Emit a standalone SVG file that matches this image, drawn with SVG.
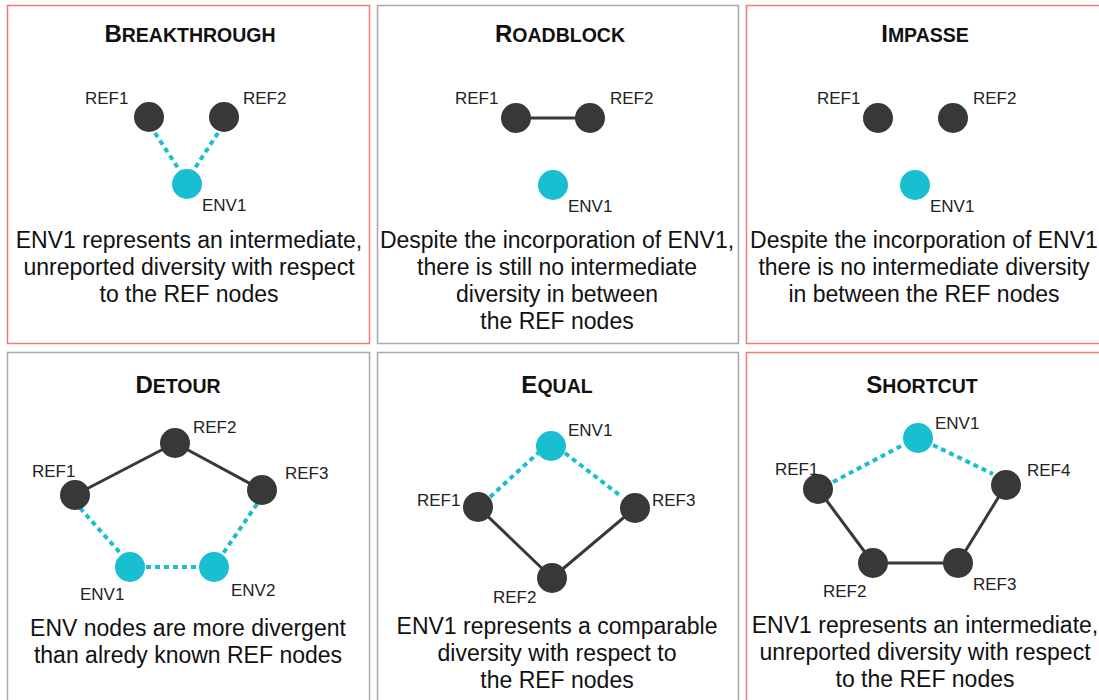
<svg xmlns="http://www.w3.org/2000/svg" width="1099" height="700" viewBox="0 0 1099 700">
<style>
.panel{fill:#fff;stroke-width:1.5}
.red{stroke:#f07a7a}
.gray{stroke:#a8a8a8}
.title{font-family:"Liberation Sans",Arial,sans-serif;font-weight:bold;font-size:19.5px;fill:#111;text-anchor:middle}
.cap{font-size:24px}
.lbl{font-family:"Liberation Sans",Arial,sans-serif;font-size:17px;fill:#222}
.desc{font-family:"Liberation Sans",Arial,sans-serif;font-size:23px;fill:#111;text-anchor:middle}
.ref{fill:#383838}
.env{fill:#19bfd0}
.solid{stroke:#383838;stroke-width:3;fill:none}
.dash{stroke:#19bfd0;stroke-width:4;stroke-dasharray:5 4;fill:none}
</style>
<rect width="1099" height="700" fill="#fff"/>
<g id="panels">
<rect class="panel red" x="7.5" y="5.5" width="362" height="338"/>
<rect class="panel gray" x="377.5" y="5.5" width="361" height="338"/>
<rect class="panel red" x="746.5" y="5.5" width="360" height="338"/>
<rect class="panel gray" x="7.5" y="352.5" width="362" height="360"/>
<rect class="panel gray" x="377.5" y="352.5" width="361" height="360"/>
<rect class="panel red" x="746.5" y="352.5" width="360" height="360"/>
</g>
<g id="connectors">
<line class="dash" x1="155" y1="133" x2="180" y2="171"/>
<line class="dash" x1="218" y1="133" x2="193" y2="171"/>
<line class="solid" x1="516" y1="118" x2="590" y2="118"/>
<line class="solid" x1="75" y1="495" x2="175" y2="443"/>
<line class="solid" x1="175" y1="443" x2="262" y2="490"/>
<line class="dash" x1="80" y1="508" x2="122" y2="555"/>
<line class="dash" x1="257" y1="504" x2="222" y2="555"/>
<line class="dash" x1="146" y1="567" x2="200" y2="567"/>
<line class="dash" x1="490" y1="497" x2="538" y2="453"/>
<line class="dash" x1="565" y1="453" x2="622" y2="497"/>
<line class="solid" x1="478" y1="507" x2="552" y2="578"/>
<line class="solid" x1="552" y1="578" x2="635" y2="508"/>
<line class="dash" x1="833" y1="482" x2="903" y2="445"/>
<line class="dash" x1="933" y1="445" x2="993" y2="474"/>
<line class="solid" x1="818" y1="489" x2="873" y2="563"/>
<line class="solid" x1="873" y1="563" x2="958" y2="563"/>
<line class="solid" x1="958" y1="563" x2="1006" y2="485"/>
</g>
<g id="breakthrough">
<text class="title" x="190" y="42"><tspan class="cap">B</tspan>REAKTHROUGH</text>
<circle class="ref" cx="149" cy="117" r="15"/>
<circle class="ref" cx="224" cy="117" r="15"/>
<circle class="env" cx="187" cy="184" r="15"/>
<text class="lbl" x="85" y="104">REF1</text>
<text class="lbl" x="243" y="104">REF2</text>
<text class="lbl" x="202" y="211">ENV1</text>
<text class="desc" x="189" y="248">ENV1 represents an intermediate,</text>
<text class="desc" x="189" y="275">unreported diversity with respect</text>
<text class="desc" x="189" y="302">to the REF nodes</text>
</g>
<g id="roadblock">
<text class="title" x="560" y="42"><tspan class="cap">R</tspan>OADBLOCK</text>
<circle class="ref" cx="516" cy="118" r="15"/>
<circle class="ref" cx="590" cy="118" r="15"/>
<circle class="env" cx="553" cy="185" r="15"/>
<text class="lbl" x="455" y="104">REF1</text>
<text class="lbl" x="610" y="104">REF2</text>
<text class="lbl" x="568" y="212">ENV1</text>
<text class="desc" x="557" y="248">Despite the incorporation of ENV1,</text>
<text class="desc" x="557" y="275">there is still no intermediate</text>
<text class="desc" x="557" y="302">diversity in between</text>
<text class="desc" x="557" y="329">the REF nodes</text>
</g>
<g id="impasse">
<text class="title" x="925" y="42"><tspan class="cap">I</tspan>MPASSE</text>
<circle class="ref" cx="878" cy="118" r="15"/>
<circle class="ref" cx="953" cy="118" r="15"/>
<circle class="env" cx="915" cy="185" r="15"/>
<text class="lbl" x="817" y="104">REF1</text>
<text class="lbl" x="973" y="104">REF2</text>
<text class="lbl" x="930" y="212">ENV1</text>
<text class="desc" x="924" y="248">Despite the incorporation of ENV1</text>
<text class="desc" x="924" y="275">there is no intermediate diversity</text>
<text class="desc" x="924" y="302">in between the REF nodes</text>
</g>
<g id="detour">
<text class="title" x="178" y="393"><tspan class="cap">D</tspan>ETOUR</text>
<circle class="ref" cx="75" cy="495" r="15"/>
<circle class="ref" cx="175" cy="443" r="15"/>
<circle class="ref" cx="262" cy="490" r="15"/>
<circle class="env" cx="130" cy="567" r="15"/>
<circle class="env" cx="214" cy="567" r="15"/>
<text class="lbl" x="193" y="433">REF2</text>
<text class="lbl" x="32" y="477">REF1</text>
<text class="lbl" x="285" y="479">REF3</text>
<text class="lbl" x="80" y="600">ENV1</text>
<text class="lbl" x="231" y="596">ENV2</text>
<text class="desc" x="188" y="636">ENV nodes are more divergent</text>
<text class="desc" x="188" y="663">than alredy known REF nodes</text>
</g>
<g id="equal">
<text class="title" x="557" y="393"><tspan class="cap">E</tspan>QUAL</text>
<circle class="env" cx="551" cy="446" r="15"/>
<circle class="ref" cx="478" cy="507" r="15"/>
<circle class="ref" cx="635" cy="508" r="15"/>
<circle class="ref" cx="552" cy="578" r="15"/>
<text class="lbl" x="568" y="436">ENV1</text>
<text class="lbl" x="417" y="506">REF1</text>
<text class="lbl" x="652" y="506">REF3</text>
<text class="lbl" x="493" y="603">REF2</text>
<text class="desc" x="557" y="634">ENV1 represents a comparable</text>
<text class="desc" x="557" y="661">diversity with respect to</text>
<text class="desc" x="557" y="688">the REF nodes</text>
</g>
<g id="shortcut">
<text class="title" x="922" y="393"><tspan class="cap">S</tspan>HORTCUT</text>
<circle class="env" cx="918" cy="438" r="15"/>
<circle class="ref" cx="818" cy="489" r="15"/>
<circle class="ref" cx="1006" cy="485" r="15"/>
<circle class="ref" cx="873" cy="563" r="15"/>
<circle class="ref" cx="958" cy="563" r="15"/>
<text class="lbl" x="935" y="429">ENV1</text>
<text class="lbl" x="775" y="475">REF1</text>
<text class="lbl" x="1027" y="476">REF4</text>
<text class="lbl" x="823" y="597">REF2</text>
<text class="lbl" x="973" y="590">REF3</text>
<text class="desc" x="925" y="633">ENV1 represents an intermediate,</text>
<text class="desc" x="925" y="660">unreported diversity with respect</text>
<text class="desc" x="925" y="687">to the REF nodes</text>
</g>
</svg>
